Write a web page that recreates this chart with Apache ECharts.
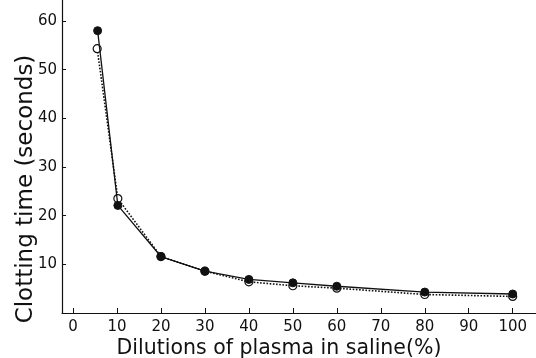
<!DOCTYPE html>
<html>
<head>
<meta charset="utf-8">
<script src="https://cdn.jsdelivr.net/npm/echarts@6/dist/echarts.min.js"></script>
<style>html,body{margin:0;padding:0;background:#fff;}#c{width:536px;height:358px;}</style>
</head>
<body>
<div id="c"></div>
<script>
var xTicks = [0, 10, 20, 30, 40, 50, 60, 70, 80, 90, 100];
var yTicks = [10, 20, 30, 40, 50, 60];
var dilutionsFilled = [5.6, 10.2, 20, 30, 40, 50, 60, 80, 100];
var clottingFilled = [58.0, 22.1, 11.6, 8.6, 6.9, 6.2, 5.5, 4.3, 3.9];
var dilutionsOpen = [5.5, 10.2, 20, 30, 40, 50, 60, 80, 100];
var clottingOpen = [54.3, 23.5, 11.6, 8.6, 6.4, 5.6, 5.1, 3.8, 3.4];

function pairs(xs, ys) { return xs.map(function (x, i) { return [x, ys[i]]; }); }

var font = 'DejaVu Sans';
var chart = echarts.init(document.getElementById('c'));
chart.setOption({
  animation: false,
  grid: { left: 62, right: 0, top: 0, bottom: 45, outerBoundsMode: 'none', containLabel: false },
  xAxis: {
    type: 'value', min: -2.5, max: 105.3,
    name: 'Dilutions of plasma in saline(%)',
    nameLocation: 'middle', nameGap: 25, nameMoveOverlap: false,
    nameTextStyle: { fontFamily: font, fontSize: 20.5, color: '#111', padding: [0, 40, 0, 0] },
    axisLine: { show: true, onZero: false, lineStyle: { color: '#111', width: 1.2 } },
    axisTick: { show: true, inside: true, length: 5, customValues: xTicks, lineStyle: { color: '#111' } },
    axisLabel: { customValues: xTicks, fontFamily: font, fontSize: 15, color: '#111', margin: 7 },
    splitLine: { show: false }
  },
  yAxis: {
    type: 'value', min: 0, max: 64.3,
    name: 'Clotting time (seconds)',
    nameLocation: 'middle', nameGap: 24, nameRotate: 90, nameMoveOverlap: false,
    nameTextStyle: { fontFamily: font, fontSize: 23, color: '#111', padding: [0, 65, 0, 0] },
    axisLine: { show: true, onZero: false, lineStyle: { color: '#111', width: 1.2 } },
    axisTick: { show: true, inside: true, length: 4, customValues: yTicks, lineStyle: { color: '#111' } },
    axisLabel: { customValues: yTicks, fontFamily: font, fontSize: 15, color: '#111', margin: 5 },
    splitLine: { show: false }
  },
  series: [
    {
      type: 'line', data: pairs(dilutionsOpen, clottingOpen),
      symbol: 'circle', symbolSize: 8,
      itemStyle: { color: '#fff', borderColor: '#111', borderWidth: 1.2 },
      lineStyle: { color: '#111', width: 1.6, type: 'dotted' },
      z: 2
    },
    {
      type: 'line', data: pairs(dilutionsFilled, clottingFilled),
      symbol: 'circle', symbolSize: 8,
      itemStyle: { color: '#111', borderColor: '#111', borderWidth: 1 },
      lineStyle: { color: '#111', width: 1.3, type: 'solid' },
      z: 3
    }
  ]
});
</script>
</body>
</html>
